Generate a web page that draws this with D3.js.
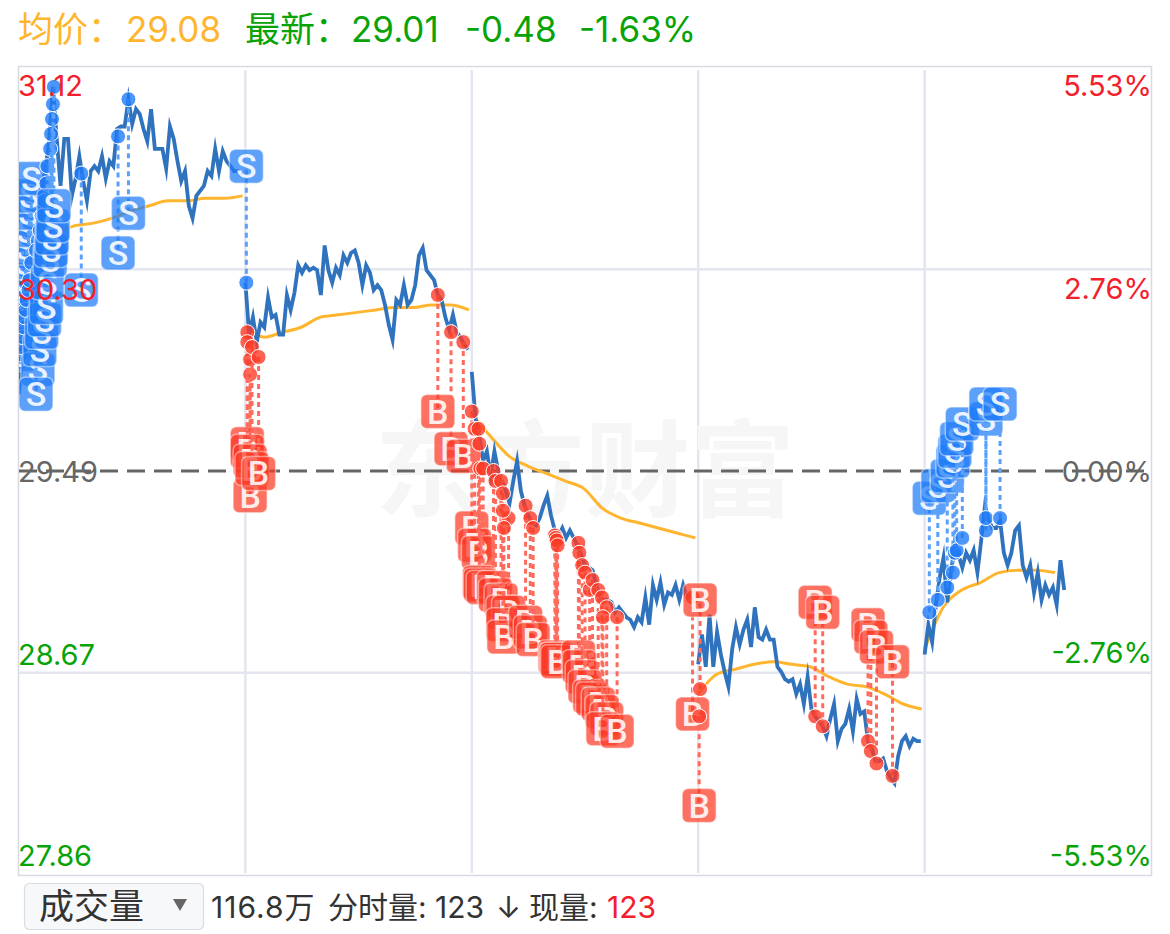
<!DOCTYPE html>
<html>
<head>
    <meta charset="utf-8">
    <style>
        html,
        body {
            width: 100%;
            height: 100%;
            margin: 0;
            padding: 0;
            overflow: hidden;
            background: #fff;
        }
        text {
            font-family: Inter, "Noto Sans CJK SC", sans-serif;
        }
    </style>
</head>
<body>
<script src="https://d3js.org/d3.v7.min.js"></script>
<script>
    // price every 4 minutes, one array for each trading day
    const day1Price = [29.80, 30.00, 30.16, 30.28, 30.42, 30.52, 30.64, 30.70, 30.83, 31.04,
        30.83, 30.64, 30.83, 30.83, 30.60, 30.67, 30.76, 30.66, 30.58, 30.70,
        30.72, 30.70, 30.76, 30.67, 30.74, 30.72, 30.87, 30.88, 30.88, 30.99,
        30.89, 30.95, 30.93, 30.87, 30.82, 30.95, 30.79, 30.79, 30.79, 30.71,
        30.88, 30.83, 30.74, 30.66, 30.70, 30.56, 30.51, 30.60, 30.62, 30.64,
        30.70, 30.68, 30.79, 30.70, 30.78, 30.74, 30.72, 30.70, 30.70, 30.68];
    const day2Price = [30.25, 30.04, 30.11, 30.01, 30.09, 30.07, 30.19, 30.11, 30.12, 30.04,
        30.04, 30.20, 30.14, 30.21, 30.32, 30.29, 30.32, 30.30, 30.31, 30.30,
        30.20, 30.40, 30.30, 30.25, 30.31, 30.28, 30.36, 30.33, 30.37, 30.38,
        30.33, 30.24, 30.32, 30.29, 30.22, 30.24, 30.22, 30.16, 30.08, 30.02,
        30.18, 30.16, 30.24, 30.16, 30.18, 30.24, 30.36, 30.39, 30.30, 30.28,
        30.26, 30.20, 30.18, 30.11, 30.06, 30.12, 30.05, 30.03, 30.00, 29.98];
    const day3Price = [29.89, 29.70, 29.63, 29.53, 29.57, 29.47, 29.57, 29.49, 29.45, 29.41,
        29.36, 29.45, 29.53, 29.41, 29.35, 29.31, 29.28, 29.27, 29.30, 29.35,
        29.39, 29.31, 29.25, 29.23, 29.26, 29.22, 29.25, 29.22, 29.19, 29.15,
        29.11, 29.10, 29.09, 29.03, 28.98, 28.97, 28.97, 28.96, 28.92, 28.94,
        28.92, 28.90, 28.89, 28.86, 28.90, 28.88, 28.98, 28.87, 29.03, 28.97,
        29.04, 28.95, 29.00, 28.99, 29.03, 28.97, 29.03, 28.98, 28.99, 28.98];
    const day4Price = [28.71, 28.83, 28.70, 28.91, 28.70, 28.84, 28.75, 28.68, 28.62, 28.77,
        28.86, 28.79, 28.85, 28.89, 28.78, 28.94, 28.82, 28.81, 28.85, 28.81,
        28.81, 28.70, 28.68, 28.65, 28.64, 28.65, 28.59, 28.63, 28.55, 28.66,
        28.53, 28.50, 28.48, 28.46, 28.42, 28.49, 28.55, 28.40, 28.45, 28.47,
        28.53, 28.44, 28.57, 28.51, 28.52, 28.40, 28.37, 28.32, 28.32, 28.33,
        28.28, 28.25, 28.23, 28.34, 28.40, 28.42, 28.38, 28.41, 28.40, 28.40];
    const day5Price = [28.75, 28.87, 28.80, 28.95, 29.06, 29.14, 28.96, 29.08, 29.20, 29.15,
        29.10, 29.16, 29.13, 29.17, 29.08, 29.21, 29.35, 29.29, 29.26, 29.26,
        29.29, 29.16, 29.11, 29.16, 29.25, 29.27, 29.11, 29.06, 29.11, 29.00,
        29.08, 28.97, 29.03, 28.99, 29.02, 28.95, 29.13, 29.01];

    // average price, 12 steps over the day
    const day1Avg = [30.06, 30.34, 30.44, 30.48, 30.49, 30.51, 30.54, 30.56, 30.58, 30.58, 30.59, 30.59, 30.60];
    const day2Avg = [30.08, 30.03, 30.05, 30.07, 30.11, 30.12, 30.13, 30.14, 30.15, 30.15, 30.16, 30.16, 30.14];
    const day3Avg = [29.72, 29.63, 29.55, 29.51, 29.48, 29.45, 29.42, 29.34, 29.30, 29.28, 29.26, 29.24, 29.22];
    const day4Avg = [28.59, 28.67, 28.69, 28.71, 28.72, 28.71, 28.70, 28.66, 28.63, 28.62, 28.59, 28.55, 28.53];
    const day5Avg = [28.77, 28.94, 29.01, 29.04, 29.08, 29.09, 29.09, 29.08];

    // trades: minute counted from the first open, trade price, price level where the tag sits
    const sellMinute = [1, 2, 3, 4, 5, 6, 7, 8, 10, 11, 13, 20, 18, 22, 24, 27, 29, 30, 33, 34, 35, 36, 37,
        66, 105, 116, 241,
        965, 974, 984, 990, 992, 994, 1000, 1025, 1025, 1040];
    const sellPrice = [29.93, 29.96, 29.99, 30.03, 30.07, 30.11, 30.14, 30.18, 30.22, 30.26, 30.33, 30.42, 30.38,
        30.46, 30.52, 30.58, 30.65, 30.72, 30.79, 30.85, 30.91, 30.97, 31.04,
        30.69, 30.84, 30.99, 30.25,
        28.92, 28.97, 29.02, 29.08, 29.16, 29.17, 29.22, 29.25, 29.30, 29.30];
    const sellTagPrice = [29.96, 30.04, 30.12, 30.19, 30.26, 30.33, 30.39, 30.46, 30.53, 30.60, 30.67, 29.90, 29.80,
        29.98, 30.05, 30.10, 30.15, 30.25, 30.34, 30.38, 30.43, 30.48, 30.56,
        30.22, 30.37, 30.53, 30.72,
        29.38, 29.43, 29.47, 29.53, 29.57, 29.62, 29.68, 29.70, 29.76, 29.76];

    const buyMinute = [245, 242, 242, 245, 247, 254, 444, 458, 471,
        480, 483, 487, 488, 489, 492, 503, 505, 511, 513, 519, 513, 514,
        537, 542, 545, 568, 569, 570, 571, 593, 594, 597, 600, 605, 608, 614, 618, 623, 619, 634,
        714, 722, 721, 844, 852, 900, 903, 909, 926];
    const buyPrice = [29.88, 30.05, 30.01, 29.94, 29.99, 29.95, 30.20, 30.05, 30.01,
        29.73, 29.66, 29.66, 29.60, 29.50, 29.50, 29.49, 29.45, 29.45, 29.40, 29.30, 29.33, 29.26,
        29.35, 29.30, 29.26, 29.23, 29.22, 29.21, 29.19, 29.20, 29.16, 29.11, 29.08, 29.01, 29.05, 29.01, 28.98, 28.94, 28.90, 28.90,
        28.98, 28.61, 28.50, 28.50, 28.46, 28.40, 28.36, 28.31, 28.26];
    const buyTagPrice = [29.39, 29.60, 29.57, 29.53, 29.50, 29.48, 29.73, 29.58, 29.55,
        29.26, 29.19, 29.16, 29.04, 29.03, 29.02, 29.02, 28.99, 28.97, 28.92, 28.92, 28.87, 28.82,
        28.88, 28.84, 28.81, 28.74, 28.73, 28.73, 28.72, 28.74, 28.70, 28.66, 28.62, 28.58, 28.57, 28.55, 28.52, 28.49, 28.45, 28.44,
        28.51, 28.97, 28.14, 28.96, 28.92, 28.87, 28.82, 28.78, 28.72];

    // axis ticks
    const priceTicks = [31.12, 30.30, 29.49, 28.67, 27.86];
    const percentTicks = [5.53, 2.76, 0, -2.76, -5.53];
    const preClose = 29.49;
    const dayMinutes = 240;
    const dayCount = 5;
    const avgStep = 19.75;

    // header and footer text
    const avgLabel = "均价：";
    const avgValue = "29.08";
    const lastLabel = "最新：";
    const lastValue = "29.01";
    const lastChange = "-0.48";
    const lastPercent = "-1.63%";

    const width = 1170;
    const height = 934;
    const plotLeft = 19;
    const plotRight = 1151;
    const plotTop = 67;
    const plotBottom = 875;

    const red = "#f3202c";
    const green = "#07a307";
    const gridColor = "#e3e6ef";
    const tagSize = 34;

    const svg = d3.select("body")
        .append("svg")
        .attr("width", width)
        .attr("height", height)
        .style("display", "block");

    const xScale = d3.scaleLinear().domain([0, dayMinutes * dayCount]).range([plotLeft, plotRight]);
    const yScale = d3.scaleLinear().domain([priceTicks[4], priceTicks[0]]).range([plotBottom, plotTop]);
    const percentScale = d3.scaleLinear().domain([-5.53, 5.53]).range([plotBottom, plotTop]);

    svg.append("clipPath").attr("id", "plot")
        .append("rect")
        .attr("x", plotLeft).attr("y", plotTop)
        .attr("width", plotRight - plotLeft).attr("height", plotBottom - plotTop);

    // header
    const header = svg.append("g").attr("font-size", 35);
    [
        {text: avgLabel, x: 18, color: "#ffb52e"},
        {text: avgValue, x: 126, color: "#ffb52e"},
        {text: lastLabel, x: 245, color: green},
        {text: lastValue, x: 351, color: green},
        {text: lastChange, x: 465, color: green},
        {text: lastPercent, x: 579, color: green}
    ].forEach(d => {
        header.append("text").attr("x", d.x).attr("y", 42).attr("fill", d.color).text(d.text);
    });

    // frame and grid
    svg.append("rect")
        .attr("x", plotLeft - 0.5).attr("y", plotTop - 0.5)
        .attr("width", plotRight - plotLeft + 1).attr("height", plotBottom - plotTop + 1)
        .attr("fill", "none").attr("stroke", "#d8dae3").attr("stroke-width", 1.5);

    const grid = svg.append("g").attr("stroke", gridColor).attr("stroke-width", 2.5);
    d3.range(1, dayCount).forEach(d => {
        grid.append("line")
            .attr("x1", xScale(d * dayMinutes)).attr("x2", xScale(d * dayMinutes))
            .attr("y1", plotTop + 3).attr("y2", plotBottom - 2);
    });
    [percentTicks[1], percentTicks[3]].forEach(d => {
        grid.append("line")
            .attr("x1", plotLeft).attr("x2", plotRight)
            .attr("y1", percentScale(d)).attr("y2", percentScale(d));
    });

    // watermark
    svg.append("text")
        .attr("x", 585).attr("y", 508)
        .attr("text-anchor", "middle")
        .attr("font-size", 105)
        .attr("font-weight", 700)
        .attr("fill", "#f6f6f6")
        .style("font-family", "'Noto Sans CJK SC'")
        .text("东方财富");

    // pre close line
    svg.append("line")
        .attr("x1", plotLeft).attr("x2", plotRight)
        .attr("y1", yScale(preClose)).attr("y2", yScale(preClose))
        .attr("stroke", "#666")
        .attr("stroke-width", 3)
        .attr("stroke-dasharray", "18 9");

    // average and price lines
    const plot = svg.append("g").attr("clip-path", "url(#plot)");

    const avgDays = [day1Avg, day2Avg, day3Avg, day4Avg, day5Avg];
    const priceDays = [day1Price, day2Price, day3Price, day4Price, day5Price];

    avgDays.forEach((values, day) => {
        const avgLine = d3.line()
            .x((d, i) => xScale(day * dayMinutes + i * avgStep))
            .y(d => yScale(d))
            .curve(d3.curveMonotoneX);
        plot.append("path").datum(values)
            .attr("d", avgLine)
            .attr("fill", "none")
            .attr("stroke", "#ffb52e")
            .attr("stroke-width", 3);
    });

    priceDays.forEach((values, day) => {
        const priceLine = d3.line()
            .x((d, i) => xScale(day * dayMinutes + i * 4))
            .y(d => yScale(d));
        plot.append("path").datum(values)
            .attr("d", priceLine)
            .attr("fill", "none")
            .attr("stroke", "#2f72bd")
            .attr("stroke-width", 3.8)
            .attr("stroke-linejoin", "miter")
            .attr("stroke-miterlimit", 8);
    });

    // B / S trade markers, drawn one trade after the other so later trades cover earlier ones
    function drawTrades(minutes, prices, tagPrices, letter, fill, dashColor) {
        const trades = minutes.map((m, i) => ({minute: m, price: prices[i], tag: tagPrices[i]}));
        const group = plot.append("g");

        trades.forEach(d => {
            const x = xScale(d.minute);
            const y = yScale(d.tag);
            group.append("line")
                .attr("x1", x).attr("x2", x)
                .attr("y1", yScale(d.price)).attr("y2", y)
                .attr("stroke", dashColor)
                .attr("stroke-width", 3)
                .attr("stroke-dasharray", "5 4");
            group.append("circle")
                .attr("cx", x).attr("cy", yScale(d.price))
                .attr("r", 7.5)
                .attr("fill", fill)
                .attr("fill-opacity", 0.8)
                .attr("stroke", "#fff")
                .attr("stroke-width", 1);
            group.append("rect")
                .attr("x", x - tagSize / 2).attr("y", y - tagSize / 2)
                .attr("width", tagSize).attr("height", tagSize)
                .attr("rx", 6)
                .attr("fill", fill)
                .attr("fill-opacity", 0.72)
                .attr("stroke", "#fff")
                .attr("stroke-opacity", 0.45)
                .attr("stroke-width", 1.5);
            group.append("text")
                .attr("x", x).attr("y", y + 12)
                .attr("text-anchor", "middle")
                .attr("font-size", 34)
                .attr("fill", "#fff")
                .attr("fill-opacity", 0.88)
                .style("font-family", "Roboto")
                .style("font-weight", 500)
                .text(letter);
        });
    }

    drawTrades(sellMinute, sellPrice, sellTagPrice, "S", "#1f7bf7", "#5aa1fb");
    drawTrades(buyMinute, buyPrice, buyTagPrice, "B", "#fb3a25", "#ff6a5c");

    // y axes, price on the left and percent on the right
    function tickColor(v) {
        if (v === 0 || v === preClose) return "#666";
        return v > 0 && v !== priceTicks[3] && v !== priceTicks[4] ? red : green;
    }

    // the top two labels hang under their tick, the bottom two sit over it
    function tickShift(i) {
        return [28.5, 29, 10.5, -10, -9.5][i];
    }

    const priceAxis = svg.append("g")
        .attr("transform", `translate(${plotLeft - 1}, 0)`)
        .call(d3.axisRight(yScale).tickValues(priceTicks).tickFormat(d => d.toFixed(2)).tickSize(0).tickPadding(0));
    priceAxis.select(".domain").remove();
    priceAxis.selectAll("text")
        .attr("dy", null)
        .attr("y", (d, i) => tickShift(i))
        .attr("fill", tickColor);

    const percentAxis = svg.append("g")
        .attr("transform", `translate(${plotRight + 1}, 0)`)
        .call(d3.axisLeft(percentScale).tickValues(percentTicks).tickFormat(d => d.toFixed(2) + "%").tickSize(0).tickPadding(0));
    percentAxis.select(".domain").remove();
    percentAxis.selectAll("text")
        .attr("dy", null)
        .attr("y", (d, i) => tickShift(i))
        .attr("fill", tickColor);
    svg.selectAll(".tick text")
        .attr("font-size", 29)
        .style("font-family", "Inter");

    // volume selector under the chart
    svg.append("rect")
        .attr("x", 24.5).attr("y", 883.5)
        .attr("width", 179).attr("height", 46)
        .attr("rx", 5)
        .attr("fill", "#f7f8fa")
        .attr("stroke", "#d9dce3")
        .attr("stroke-width", 1.2);
    svg.append("text")
        .attr("x", 39).attr("y", 919)
        .attr("font-size", 35)
        .attr("fill", "#333")
        .text("成交量");
    svg.append("path")
        .attr("d", d3.line()([[173, 899], [187, 899], [180, 911]]) + "Z")
        .attr("fill", "#666");

    const footer = svg.append("g").attr("font-size", 30).attr("fill", "#333");
    [
        {text: "116.8万", x: 211, spacing: 1},
        {text: "分时量:", x: 328},
        {text: "123", x: 435},
        {text: "↓", x: 496},
        {text: "现量:", x: 529},
        {text: "123", x: 607, color: red}
    ].forEach(d => {
        footer.append("text")
            .attr("x", d.x).attr("y", 918)
            .attr("fill", d.color || "#333")
            .attr("letter-spacing", d.spacing || 0)
            .text(d.text);
    });
</script>
</body>
</html>
